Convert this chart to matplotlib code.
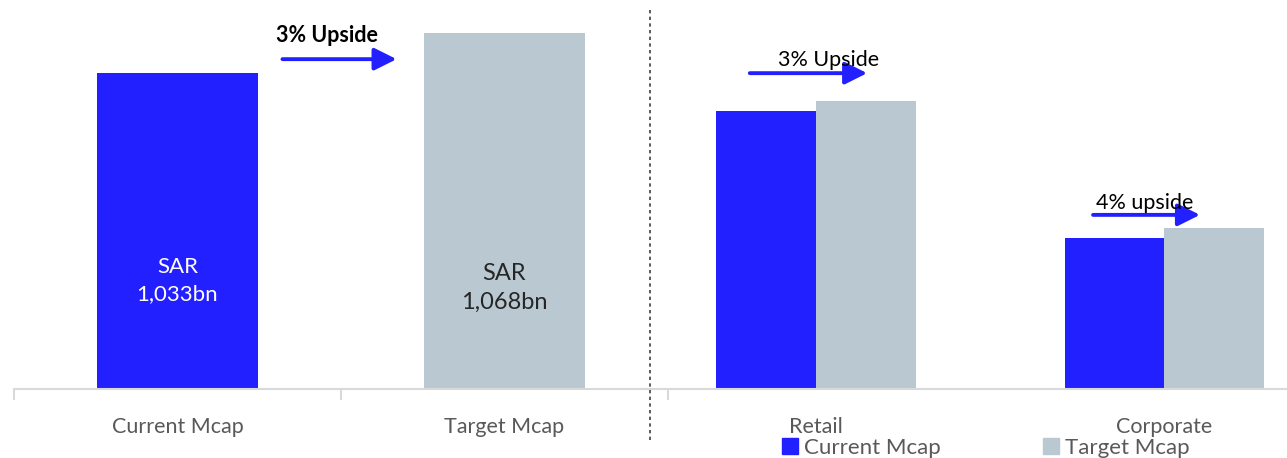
import matplotlib
matplotlib.use("Agg")
import matplotlib.pyplot as plt
from matplotlib.lines import Line2D
from matplotlib.patches import Patch

plt.rcParams["font.family"] = ["Lato", "DejaVu Sans"]

# left panel: total market cap (SAR bn)
mcap_labels = ["Current Mcap", "Target Mcap"]
mcap_values = [1033, 1068]
mcap_text = ["SAR\n1,033bn", "SAR\n1,068bn"]

# right panel: split by segment
segments = ["Retail", "Corporate"]
seg_current = [669, 363]
seg_target = [693, 387]
seg_upside = ["3% Upside", "4% upside"]

blue = "#2320ff"
grey = "#bac9d1"
axis_grey = "#d9d9d9"
label_grey = "#595959"

W, H = 1287, 458
fig = plt.figure(figsize=(W / 100, H / 100), dpi=100)

base = 389
top = 10
ax1 = fig.add_axes([14 / W, (H - base) / H, (650 - 14) / W, (base - top) / H])
ax2 = fig.add_axes([645 / W, (H - base) / H, (1287 - 645) / W, (base - top) / H])

for ax in (ax1, ax2):
    for s in ("top", "right", "left"):
        ax.spines[s].set_visible(False)
    ax.spines["bottom"].set_color(axis_grey)
    ax.spines["bottom"].set_linewidth(1.5)
    ax.set_yticks([])
    ax.patch.set_alpha(0)

arrow_kw = dict(arrowstyle="-|>,head_width=0.45,head_length=0.9",
                color=blue, lw=2.8, mutation_scale=15, shrinkA=0, shrinkB=0)

# ---- left panel
x1 = [0, 1]
ax1.bar(x1, mcap_values, width=0.495, color=[blue, grey])
ax1.set_ylim(756.5, 1088)
ax1.set_xlim(-0.5, 1.445)
ax1.set_xticks([-0.5, 0.5])
ax1.set_xticklabels([])
ax1.set_xticks(x1, minor=True)
ax1.set_xticklabels(mcap_labels, minor=True)
ax1.tick_params(axis="x", which="major", length=8, color=axis_grey, width=1.5)
ax1.tick_params(axis="x", which="minor", length=0, pad=20, labelsize=15.5, labelcolor=label_grey)

ax1.text(0, 851, mcap_text[0], ha="center", va="center", color="white", fontsize=16, linespacing=1.45)
ax1.text(1, 845, mcap_text[1], ha="center", va="center", color="#262626", fontsize=17, linespacing=1.45)

ax1.annotate("", xy=(0.67, 1045), xytext=(0.321, 1045), arrowprops=arrow_kw)
ax1.text(0.456, 1066, "3% Upside", ha="center", va="center", fontsize=15.5, fontweight="bold", color="black")

# ---- right panel
x2 = [0, 1]
bw = 0.286
ax2.bar([x - bw / 2 for x in x2], seg_current, width=bw, color=blue)
ax2.bar([x + bw / 2 for x in x2], seg_target, width=bw, color=grey)
ax2.set_ylim(0, 912)
ax2.set_xlim(-0.491, 1.353)
ax2.set_xticks([-0.425])
ax2.set_xticklabels([])
ax2.set_xticks(x2, minor=True)
ax2.set_xticklabels(segments, minor=True)
ax2.tick_params(axis="x", which="major", length=8, color=axis_grey, width=1.5)
ax2.tick_params(axis="x", which="minor", length=0, pad=20, labelsize=15.5, labelcolor=label_grey)

arrow_pos = [(-0.19, 0.147, 760, 0.037, 792), (0.796, 1.103, 419, 0.943, 447)]
for (xa, xb, ya, xt, yt), txt in zip(arrow_pos, seg_upside):
    ax2.annotate("", xy=(xb, ya), xytext=(xa, ya), arrowprops=arrow_kw)
    ax2.text(xt, yt, txt, ha="center", va="center", fontsize=15.5, color="black")

# dotted divider
fig.add_artist(Line2D([650 / W, 650 / W], [1 - 10 / H, 1 - 440 / H], transform=fig.transFigure,
                      color="#404040", lw=1.2, linestyle=(0, (2, 2))))

handles = [Patch(color=blue, label="Current Mcap"), Patch(color=grey, label="Target Mcap")]
fig.legend(handles=handles, loc="center", bbox_to_anchor=(986 / W, 1 - 448 / H), ncol=2,
           frameon=False, fontsize=16, handlelength=0.7, handleheight=0.7, handletextpad=0.3,
           columnspacing=4.6, labelcolor=label_grey, borderpad=0)

fig.savefig("out.png", dpi=100)
